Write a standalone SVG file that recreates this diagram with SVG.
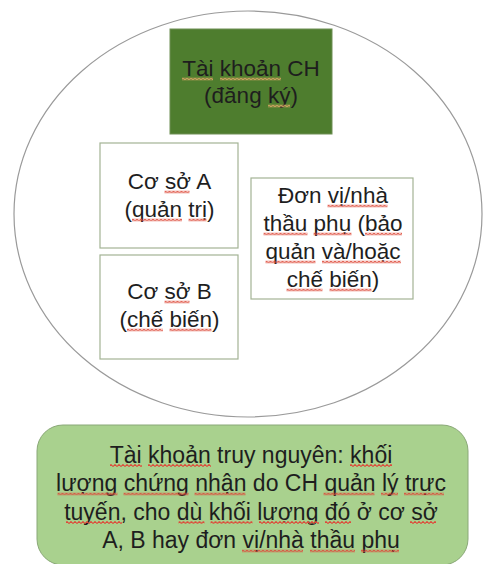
<svg xmlns="http://www.w3.org/2000/svg" width="483" height="564" viewBox="0 0 483 564">
  <style>
    text { font-family: "Liberation Sans", Arial, sans-serif; font-size: 22.5px; fill: #1e1e1e; text-anchor: middle; }
    .big { font-size: 23px; }
    .box { fill: #ffffff; stroke: #a3b394; stroke-width: 1.2; }
    .sq { fill: url(#wave); }
    .sq-dark { fill: url(#wave-light); }
  </style>
  <defs>
    <!-- spell-check squiggle, tiled along each marked word -->
    <pattern id="wave" patternUnits="userSpaceOnUse" width="4" height="3">
      <path d="M-1,2.5 L1,0.5 L3,2.5 L5,0.5" fill="none" stroke="#dd4a3a" stroke-width="1.05"/>
    </pattern>
    <!-- lighter variant for the dark green box -->
    <pattern id="wave-light" patternUnits="userSpaceOnUse" width="4" height="3">
      <path d="M-1,2.5 L1,0.5 L3,2.5 L5,0.5" fill="none" stroke="#e8a86a" stroke-width="1.1"/>
    </pattern>
  </defs>
  <rect width="483" height="564" fill="#ffffff"/>

  <!-- outer scope ellipse -->
  <g id="scope">
    <ellipse cx="248" cy="214" rx="234" ry="203" fill="#ffffff" stroke="#9a9a9a" stroke-width="1.2"/>
  </g>

  <g id="connectors"></g>

  <g id="account">
    <rect x="170" y="29" width="162" height="105" fill="#4e7d2e" stroke="#6f8f55" stroke-width="1"/>
    <text x="251" y="76" fill="#151515">Tài khoản CH</text>
    <text x="251" y="103">(đăng ký)</text>
    <rect class="sq-dark" transform="translate(182,77.5)" width="31" height="3"/>
    <rect class="sq-dark" transform="translate(220,77.5)" width="61" height="3"/>
    <rect class="sq-dark" transform="translate(268,104.5)" width="22" height="3"/>
  </g>

  <g id="site-a">
    <rect class="box" x="100" y="143" width="138" height="105"/>
    <text x="169.5" y="189">Cơ sở A</text>
    <text x="169.5" y="217">(quản trị)</text>
    <rect class="sq" transform="translate(164.5,190.5)" width="25" height="3"/>
    <rect class="sq" transform="translate(132,218.5)" width="50" height="3"/>
    <rect class="sq" transform="translate(188.5,218.5)" width="18" height="3"/>
  </g>

  <g id="site-b">
    <rect class="box" x="100" y="255" width="138" height="104"/>
    <text x="169.5" y="299">Cơ sở B</text>
    <text x="169.5" y="327">(chế biến)</text>
    <rect class="sq" transform="translate(164.5,300.5)" width="25" height="3"/>
    <rect class="sq" transform="translate(127,328.5)" width="36" height="3"/>
    <rect class="sq" transform="translate(169.5,328.5)" width="42" height="3"/>
  </g>

  <g id="subcontractor">
    <rect class="box" x="251" y="178" width="162" height="121"/>
    <text x="333" y="203">Đơn vị/nhà</text>
    <text x="333" y="231">thầu phụ (bảo</text>
    <text x="333" y="259">quản và/hoặc</text>
    <text x="333" y="287">chế biến)</text>
    <rect class="sq" transform="translate(327.5,204.5)" width="60" height="3"/>
    <rect class="sq" transform="translate(263.5,232.5)" width="44" height="3"/>
    <rect class="sq" transform="translate(313.5,232.5)" width="38" height="3"/>
    <rect class="sq" transform="translate(365,232.5)" width="37" height="3"/>
    <rect class="sq" transform="translate(265.5,260.5)" width="50" height="3"/>
    <rect class="sq" transform="translate(322,260.5)" width="79" height="3"/>
    <rect class="sq" transform="translate(286.5,288.5)" width="36" height="3"/>
    <rect class="sq" transform="translate(329.5,288.5)" width="42" height="3"/>
  </g>

  <g id="traceability">
    <rect x="37" y="425" width="431" height="140" rx="26" fill="#a9d18e" stroke="#8aa878" stroke-width="1"/>
    <text class="big" x="251" y="462.5">Tài khoản truy nguyên: khối</text>
    <text class="big" x="251" y="491">lượng chứng nhận do CH quản lý trực</text>
    <text class="big" x="251" y="519.5">tuyến, cho dù khối lượng đó ở cơ sở</text>
    <text class="big" x="251" y="548">A, B hay đơn vị/nhà thầu phụ</text>
    <rect class="sq" transform="translate(110,464)" width="32" height="3"/>
    <rect class="sq" transform="translate(148,464)" width="63" height="3"/>
    <rect class="sq" transform="translate(350,464)" width="42" height="3"/>
    <rect class="sq" transform="translate(57.5,492.5)" width="60" height="3"/>
    <rect class="sq" transform="translate(123.5,492.5)" width="65" height="3"/>
    <rect class="sq" transform="translate(194.5,492.5)" width="51" height="3"/>
    <rect class="sq" transform="translate(323.5,492.5)" width="51" height="3"/>
    <rect class="sq" transform="translate(381,492.5)" width="17" height="3"/>
    <rect class="sq" transform="translate(404,492.5)" width="40" height="3"/>
    <rect class="sq" transform="translate(66,521)" width="56" height="3"/>
    <rect class="sq" transform="translate(178.5,521)" width="26" height="3"/>
    <rect class="sq" transform="translate(210.5,521)" width="42" height="3"/>
    <rect class="sq" transform="translate(259,521)" width="60" height="3"/>
    <rect class="sq" transform="translate(325,521)" width="26" height="3"/>
    <rect class="sq" transform="translate(410,521)" width="26" height="3"/>
    <rect class="sq" transform="translate(242,549.5)" width="61" height="3"/>
    <rect class="sq" transform="translate(310,549.5)" width="45" height="3"/>
    <rect class="sq" transform="translate(361,549.5)" width="38" height="3"/>
  </g>
</svg>
